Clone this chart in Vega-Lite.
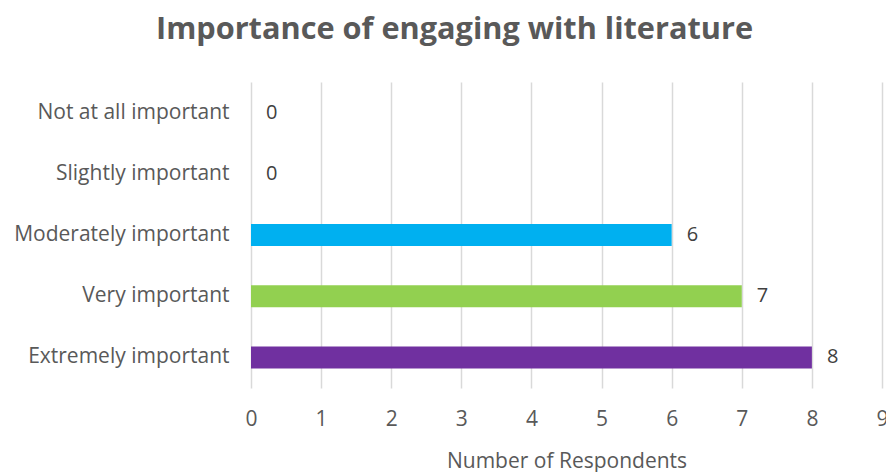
{
  "$schema": "https://vega.github.io/schema/vega-lite/v6.json",
  "autosize": {"type": "none"},
  "width": 631,
  "height": 306,
  "padding": {"left": 251, "top": 82, "right": 4, "bottom": 84},
  "background": "white",
  "config": {"view": {"stroke": null}, "font": "Open Sans"},
  "title": {
    "text": "Importance of engaging with literature",
    "fontSize": 30.7,
    "fontWeight": "bold",
    "color": "#595959",
    "font": "Open Sans",
    "anchor": "middle",
    "frame": "group",
    "dx": -112,
    "offset": 36
  },
  "data": {
    "values": [
      {"category": "Not at all important", "count": 0},
      {"category": "Slightly important", "count": 0},
      {"category": "Moderately important", "count": 6},
      {"category": "Very important", "count": 7},
      {"category": "Extremely important", "count": 8}
    ]
  },
  "encoding": {
    "y": {
      "field": "category",
      "type": "nominal",
      "sort": null,
      "scale": {"paddingInner": 0.64, "paddingOuter": 0.32},
      "axis": {
        "title": null,
        "domain": false,
        "ticks": false,
        "labelFontSize": 21,
        "labelColor": "#595959",
        "labelPadding": 22,
        "labelLimit": 300
      }
    },
    "x": {
      "field": "count",
      "type": "quantitative",
      "scale": {"domain": [0, 9], "nice": false},
      "axis": {
        "title": "Number of Respondents",
        "titleFontSize": 21,
        "titleFontWeight": "normal",
        "titleColor": "#595959",
        "titlePadding": 21,
        "values": [0, 1, 2, 3, 4, 5, 6, 7, 8, 9],
        "format": "d",
        "domain": false,
        "ticks": false,
        "labelFontSize": 21,
        "labelColor": "#595959",
        "labelPadding": 20,
        "labelFlush": false,
        "labelOverlap": false,
        "grid": true,
        "gridColor": "#d9d9d9",
        "gridWidth": 1.5
      }
    }
  },
  "layer": [
    {
      "mark": {"type": "bar"},
      "encoding": {
        "color": {
          "field": "category",
          "type": "nominal",
          "scale": {
            "domain": ["Not at all important", "Slightly important", "Moderately important", "Very important", "Extremely important"],
            "range": ["#ffc000", "#ed7d31", "#00b0f0", "#92d050", "#7030a0"]
          },
          "legend": null
        }
      }
    },
    {
      "mark": {"type": "text", "align": "left", "dx": 15, "fontSize": 20, "color": "#404040", "baseline": "middle"},
      "encoding": {"text": {"field": "count", "type": "quantitative"}}
    }
  ]
}
